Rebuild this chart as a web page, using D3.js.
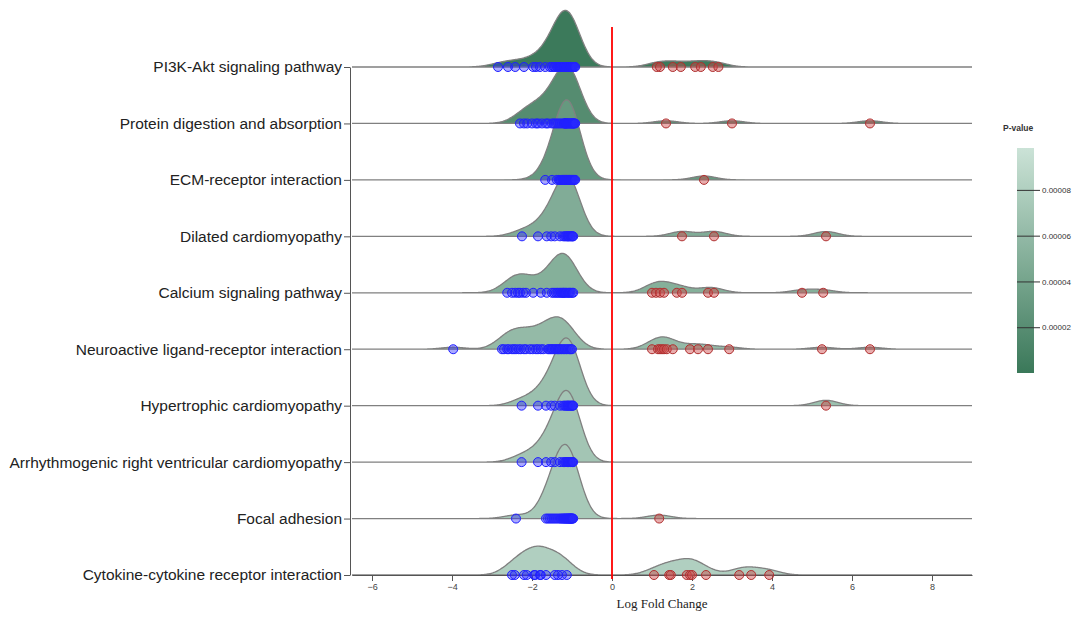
<!DOCTYPE html>
<html>
<head>
<meta charset="utf-8">
<script src="https://d3js.org/d3.v7.min.js"></script>
<style>
  body { margin: 0; background: #fff; }
  svg { display: block; font-family: 'Liberation Sans', Arial, sans-serif; }
</style>
</head>
<body>
<svg id="ridge" width="1078" height="624"></svg>
<script>
var categories = [
  'PI3K-Akt signaling pathway',
  'Protein digestion and absorption',
  'ECM-receptor interaction',
  'Dilated cardiomyopathy',
  'Calcium signaling pathway',
  'Neuroactive ligand-receptor interaction',
  'Hypertrophic cardiomyopathy',
  'Arrhythmogenic right ventricular cardiomyopathy',
  'Focal adhesion',
  'Cytokine-cytokine receptor interaction'
]

var pValues = [0.0000015, 0.000018, 0.00003, 0.000048, 0.000051, 0.000061, 0.000066, 0.000071, 0.000074, 0.00008]

// log fold change of the genes in each pathway
var pi3kAkt = [-2.85, -2.6, -2.42, -2.2, -1.97, -1.9, -1.8, -1.67,
  -1.55, -1.5, -1.45, -1.42, -1.38, -1.35, -1.32, -1.3, -1.28, -1.25, -1.22, -1.2, -1.2, -1.18, -1.16, -1.15,
  -1.14, -1.12, -1.1, -1.1, -1.08, -1.06, -1.05, -1.04, -1.03, -1.02, -1.0, -1.0, -0.98, -0.96, -0.94, -0.92,
  1.12, 1.2, 1.52, 1.72, 2.08, 2.22, 2.52, 2.66]
var proteinDigestion = [-2.3, -2.2, -2.12, -2.0, -1.9, -1.85, -1.75, -1.65, -1.6, -1.5, -1.45, -1.4, -1.35, -1.3, -1.25,
  -1.2, -1.19, -1.18, -1.16, -1.15, -1.14, -1.12, -1.1, -1.08, -1.06, -1.04, -1.02, -1.0, -0.98, -0.97, -0.96, -0.94, -0.92,
  1.35, 3.0, 6.45]
var ecmReceptor = [-1.67, -1.5, -1.38, -1.33, -1.3, -1.27, -1.24, -1.22, -1.2, -1.18, -1.16, -1.14,
  -1.12, -1.1, -1.08, -1.06, -1.05, -1.03, -1.02, -1.0, -0.98, -0.96, -0.94, -0.92,
  2.3]
var dilated = [-2.25, -1.85, -1.63, -1.52, -1.43, -1.3, -1.22, -1.18, -1.15, -1.12, -1.1, -1.08, -1.05,
  -1.03, -1.0, -0.99, -0.97,
  1.75, 2.55, 5.35]
var calcium = [-2.62, -2.5, -2.42, -2.35, -2.3, -2.22, -2.15, -1.97, -1.78, -1.63,
  -1.5, -1.45, -1.4, -1.36, -1.32, -1.28, -1.25, -1.22, -1.2, -1.17, -1.14, -1.1, -1.07, -1.04, -1.0, -0.97,
  1.0, 1.1, 1.2, 1.3, 1.62, 1.75, 2.4, 2.55, 4.75, 5.28]
var neuroactive = [-3.97,
  -2.75, -2.7, -2.62, -2.58, -2.5, -2.45, -2.4, -2.33, -2.28, -2.2, -2.15, -2.05, -1.98, -1.9, -1.85, -1.78, -1.72,
  -1.6, -1.57, -1.53, -1.5, -1.47, -1.43, -1.4, -1.36, -1.33, -1.3, -1.26, -1.22, -1.18, -1.14, -1.1, -1.06, -1.03, -1.0,
  1.0, 1.15, 1.2, 1.25, 1.3, 1.37, 1.52, 1.95, 2.15, 2.4, 2.93, 5.25, 6.45]
var hypertrophic = [-2.26, -1.85, -1.65, -1.52, -1.43, -1.3, -1.22, -1.18, -1.15, -1.12, -1.1, -1.08, -1.05,
  -1.03, -1.0, -0.99, -0.97,
  5.35]
var arrhythmogenic = [-2.26, -1.85, -1.65, -1.52, -1.43, -1.3, -1.22, -1.18, -1.15, -1.12, -1.1, -1.08, -1.05,
  -1.03, -1.0, -0.99, -0.97]
var focalAdhesion = [-2.4,
  -1.65, -1.6, -1.55, -1.5, -1.45, -1.4, -1.35, -1.3, -1.27, -1.24, -1.21, -1.19, -1.17, -1.15, -1.13, -1.11,
  -1.1, -1.08, -1.06, -1.05, -1.04, -1.03, -1.01, -1.0, -0.99, -0.97,
  1.18]
var cytokine = [-2.5, -2.43, -2.2, -2.13, -1.95, -1.92, -1.8, -1.78, -1.65, -1.43, -1.35, -1.25, -1.13,
  1.05, 1.43, 1.47, 1.87, 1.95, 2.0, 2.35, 3.18, 3.48, 3.93]

var foldChanges = [pi3kAkt, proteinDigestion, ecmReceptor, dilated, calcium, neuroactive,
  hypertrophic, arrhythmogenic, focalAdhesion, cytokine]

var xTicks = [-6, -4, -2, 0, 2, 4, 6, 8]
var legendTicks = [0.00002, 0.00004, 0.00006, 0.00008]

var svg = d3.select('#ridge')

var x = d3.scaleLinear().domain([-6.5, 9]).range([352, 972])
var y = d3.scalePoint().domain(categories).range([67, 575])

var pMax = 0.0000983
var color = d3.scaleLinear().domain([0, pMax]).range(['#3a7859', '#cbe3d7'])

// kernel density, same as the usual ridgeline recipe but with a gaussian kernel
function gaussian (bw) {
  return function (v) {
    return Math.exp(-0.5 * (v / bw) * (v / bw)) / (bw * Math.sqrt(2 * Math.PI))
  }
}
function kde (kernel, grid) {
  return function (sample) {
    return grid.map(function (g) {
      return [g, d3.mean(sample, function (v) { return kernel(g - v) })]
    })
  }
}

var grid = d3.range(-6.5, 9.0001, 0.025)
var estimator = kde(gaussian(0.3), grid)
var densities = foldChanges.map(function (s) { return estimator(s) })
var maxDensity = d3.max(densities, function (d) { return d3.max(d, function (p) { return p[1] }) })
var h = d3.scaleLinear().domain([0, maxDensity]).range([0, 80])

// ridges, top row first so lower ones sit on top
var ridges = svg.append('g')
categories.forEach(function (cat, i) {
  var base = y(cat)
  var area = d3.area()
    .curve(d3.curveBasis)
    .x(function (d) { return x(d[0]) })
    .y0(base)
    .y1(function (d) { return base - h(d[1]) })
  ridges.append('path')
    .datum(densities[i])
    .attr('d', area)
    .attr('fill', color(pValues[i]))
    .attr('stroke', '#808080')
    .attr('stroke-width', 1.3)
})

// axes
var xAxis = svg.append('g')
  .attr('transform', 'translate(0,575)')
  .call(d3.axisBottom(x).tickValues(xTicks).tickSizeOuter(0))
xAxis.selectAll('text').attr('fill', '#444').style('font-size', '9px')
xAxis.select('.domain').attr('stroke', '#555')
xAxis.selectAll('.tick line').attr('stroke', '#555')

var yAxis = svg.append('g')
  .attr('transform', 'translate(350,0)')
  .call(d3.axisLeft(y).tickSizeOuter(0).tickPadding(2))
yAxis.selectAll('text').attr('fill', '#222').style('font-size', '15.5px')
yAxis.select('.domain').attr('stroke', '#555')
yAxis.selectAll('.tick line').attr('stroke', '#555')

svg.append('text')
  .attr('x', 662)
  .attr('y', 608)
  .attr('text-anchor', 'middle')
  .style('font-family', "'Liberation Serif', 'Times New Roman', serif")
  .style('font-size', '13px')
  .attr('fill', '#222')
  .text('Log Fold Change')

// zero line
svg.append('line')
  .attr('x1', x(0)).attr('x2', x(0))
  .attr('y1', 27).attr('y2', 579)
  .attr('stroke', '#ff0000')
  .attr('stroke-width', 1.8)

// genes
var dots = svg.append('g')
categories.forEach(function (cat, i) {
  dots.selectAll('.dot' + i)
    .data(foldChanges[i])
    .enter().append('circle')
    .attr('cx', function (d) { return x(d) })
    .attr('cy', y(cat))
    .attr('r', 4.5)
    .attr('fill', function (d) { return d < 0 ? 'rgba(40,40,255,0.4)' : 'rgba(205,70,70,0.45)' })
    .attr('stroke', function (d) { return d < 0 ? '#2020ff' : '#b03030' })
    .attr('stroke-width', 1)
})

// p-value legend
var defs = svg.append('defs')
var grad = defs.append('linearGradient')
  .attr('id', 'pgrad')
  .attr('x1', '0%').attr('y1', '100%')
  .attr('x2', '0%').attr('y2', '0%')
d3.range(0, 1.001, 0.1).forEach(function (t) {
  grad.append('stop')
    .attr('offset', (t * 100) + '%')
    .attr('stop-color', color(t * pMax))
})

var ly = d3.scaleLinear().domain([0, pMax]).range([373, 148])

svg.append('text')
  .attr('x', 1003)
  .attr('y', 131)
  .style('font-size', '8.5px')
  .style('font-weight', 'bold')
  .attr('fill', '#333')
  .text('P-value')

svg.append('rect')
  .attr('x', 1017)
  .attr('y', 148)
  .attr('width', 17)
  .attr('height', 225)
  .attr('fill', 'url(#pgrad)')

var legendAxis = svg.append('g')
  .attr('transform', 'translate(1017,0)')
  .call(d3.axisRight(ly).tickValues(legendTicks).tickSize(23).tickPadding(2).tickFormat(d3.format('.5f')))
legendAxis.select('.domain').remove()
legendAxis.selectAll('.tick line').attr('stroke', '#333')
legendAxis.selectAll('text').attr('fill', '#333').style('font-size', '8px')
</script>
</body>
</html>
